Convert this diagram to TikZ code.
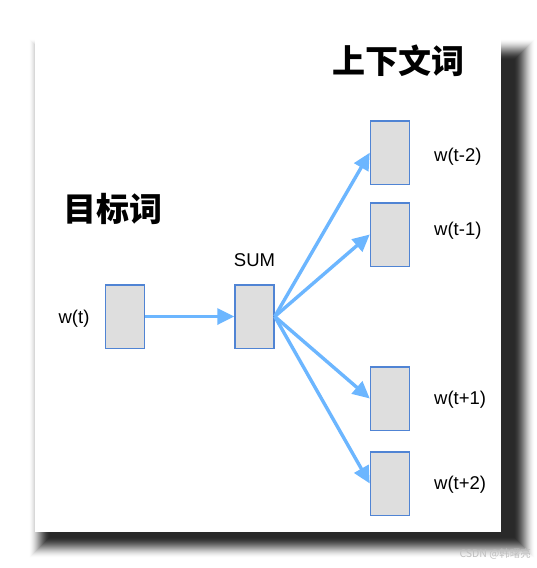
\documentclass[tikz,border=0pt]{standalone}
\usepackage{fontspec}
\setmainfont{Liberation Sans}
\newfontfamily\cjk{Noto Sans CJK SC}
\usetikzlibrary{arrows.meta}
\definecolor{arrowblue}{RGB}{108,182,255}
\definecolor{boxedge}{RGB}{80,132,212}
\definecolor{boxfill}{RGB}{222,222,222}
\begin{document}
\begin{tikzpicture}[x=1pt,y=-1pt,
  wordbox/.style={draw=boxedge, fill=boxfill, line width=1.5pt, minimum width=39pt, minimum height=63.5pt, inner sep=0pt},
  flow/.style={draw=arrowblue, line width=3.4pt, -{Triangle[length=17pt,width=16pt]}},
  lbl/.style={font=\fontsize{18.5}{18.5}\selectfont, inner sep=0pt},
  title/.style={font=\cjk\bfseries\fontsize{33}{33}\selectfont, inner sep=0pt}]
\useasboundingbox (0,0) rectangle (536,568);
\fill[white] (0,0) rectangle (536,568);
\foreach \i in {0,...,22} {
  \pgfmathsetmacro{\s}{\i/22}
  \pgfmathsetmacro{\p}{84*\s*\s*(3-2*\s)}
  \fill[black!\p] (28+\i,38+\i) rectangle (536-\i,559-\i);
}
\fill[white] (35,35) rectangle (501,532);
\node[wordbox] (wt) at (125,316.5) {};
\node[wordbox] (sum) at (254.5,316.5) {};
\node[wordbox] (tm2) at (390,152.7) {};
\node[wordbox] (tm1) at (390,234.5) {};
\node[wordbox] (tp1) at (390,398.5) {};
\node[wordbox] (tp2) at (390,483.5) {};
\node[lbl] (lwt) at (74,319) {w(t)};
\node[lbl] (lsum) at (254.5,260) {SUM};
\node[lbl, anchor=west] (ltm2) at (434,156.5) {w(t-2)};
\node[lbl, anchor=west] (ltm1) at (434,231) {w(t-1)};
\node[lbl, anchor=west] (ltp1) at (434,399.6) {w(t+1)};
\node[lbl, anchor=west] (ltp2) at (434,484.8) {w(t+2)};
\node[title] (ctx) at (398.5,61) {上下文词};
\node[title] (tgt) at (113,209) {目标词};
\draw[flow] (wt.east) -- (sum.west);
\draw[flow] (sum.east) -- (tm2.west);
\draw[flow] (sum.east) -- (tm1.west);
\draw[flow] (sum.east) -- (tp1.west);
\draw[flow] (sum.east) -- (tp2.west);
\node[font=\cjk\fontsize{10.5}{10.5}\selectfont, text=black!25, anchor=east, inner sep=0pt] (wm) at (531,554) {CSDN @韩曙亮};
\end{tikzpicture}
\end{document}
